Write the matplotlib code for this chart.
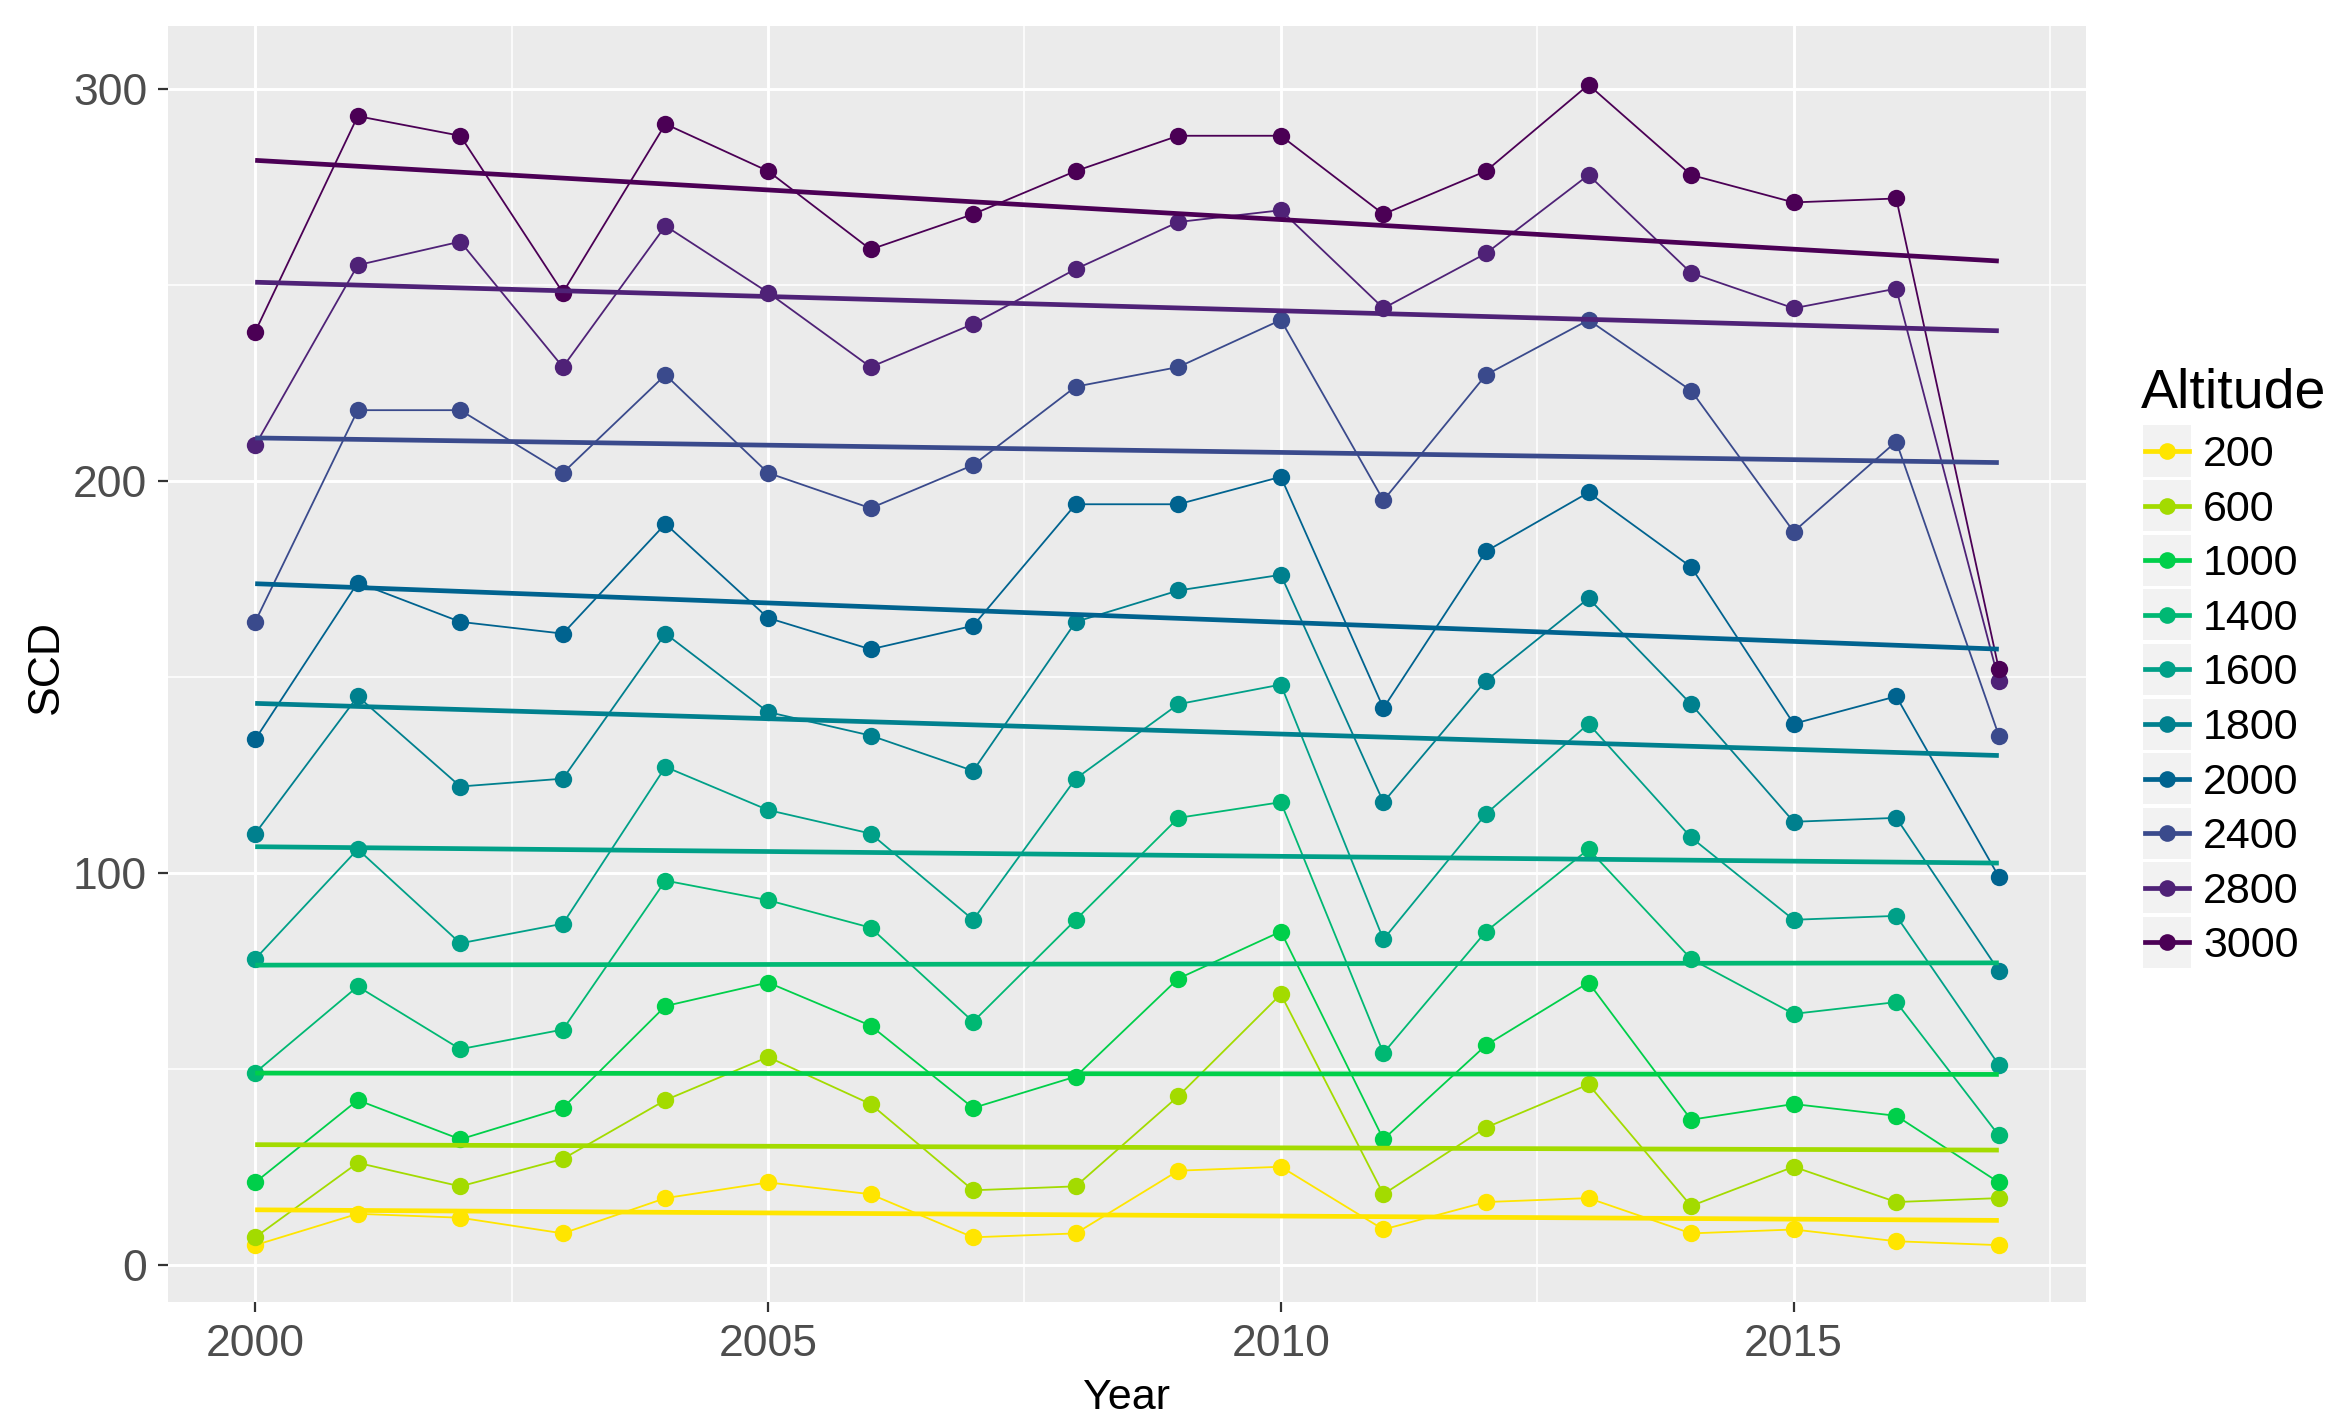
import numpy as np
import matplotlib
matplotlib.use("Agg")
import matplotlib.pyplot as plt
from matplotlib.lines import Line2D
from matplotlib.patches import Rectangle
from matplotlib.ticker import MultipleLocator

plt.rcParams['font.family'] = ['Liberation Sans', 'DejaVu Sans']

years = list(range(2000, 2018))
altitudes = ["200", "600", "1000", "1400", "1600", "1800", "2000", "2400", "2800", "3000"]
colors = ["#FFE500", "#A3DB00", "#00CF4A", "#00B873", "#00A088",
          "#00808E", "#00638F", "#3A4A8C", "#4F2277", "#4B0055"]

scd_200 = [5, 13, 12, 8, 17, 21, 18, 7, 8, 24, 25, 9, 16, 17, 8, 9, 6, 5]
scd_600 = [7, 26, 20, 27, 42, 53, 41, 19, 20, 43, 69, 18, 35, 46, 15, 25, 16, 17]
scd_1000 = [21, 42, 32, 40, 66, 72, 61, 40, 48, 73, 85, 32, 56, 72, 37, 41, 38, 21]
scd_1400 = [49, 71, 55, 60, 98, 93, 86, 62, 88, 114, 118, 54, 85, 106, 78, 64, 67, 33]
scd_1600 = [78, 106, 82, 87, 127, 116, 110, 88, 124, 143, 148, 83, 115, 138, 109, 88, 89, 51]
scd_1800 = [110, 145, 122, 124, 161, 141, 135, 126, 164, 172, 176, 118, 149, 170, 143, 113, 114, 75]
scd_2000 = [134, 174, 164, 161, 189, 165, 157, 163, 194, 194, 201, 142, 182, 197, 178, 138, 145, 99]
scd_2400 = [164, 218, 218, 202, 227, 202, 193, 204, 224, 229, 241, 195, 227, 241, 223, 187, 210, 135]
scd_2800 = [209, 255, 261, 229, 265, 248, 229, 240, 254, 266, 269, 244, 258, 278, 253, 244, 249, 149]
scd_3000 = [238, 293, 288, 248, 291, 279, 259, 268, 279, 288, 288, 268, 279, 301, 278, 271, 272, 152]

series = [scd_200, scd_600, scd_1000, scd_1400, scd_1600,
          scd_1800, scd_2000, scd_2400, scd_2800, scd_3000]

W, H = 2350, 1426
fig = plt.figure(figsize=(W / 100, H / 100), dpi=100)

def fx(px):
    return px / W

def fy(py):
    return 1 - py / H

L, R, T, B = 168, 2086, 26, 1302
ax = fig.add_axes([fx(L), fy(B), (R - L) / W, (B - T) / H])
ax.set_facecolor("#EBEBEB")
for s in ax.spines.values():
    s.set_visible(False)

x = np.array(years, dtype=float)
for vals, c in zip(series, colors):
    ax.plot(x, vals, color=c, lw=1.3, zorder=3)
for vals, c in zip(series, colors):
    ax.plot(x, vals, 'o', color=c, ms=12.5, mec='none', zorder=4)
for vals, c in zip(series, colors):
    k, b0 = np.polyfit(x, np.array(vals, dtype=float), 1)
    ax.plot(x, k * x + b0, color=c, lw=3.4, zorder=5, solid_capstyle='butt')

ax.set_xlim(1999.15, 2017.85)
ax.set_ylim(-9.5, 316)
ax.xaxis.set_major_locator(MultipleLocator(5))
ax.xaxis.set_minor_locator(MultipleLocator(2.5))
ax.yaxis.set_major_locator(MultipleLocator(100))
ax.yaxis.set_minor_locator(MultipleLocator(50))
ax.grid(which='major', color='white', lw=2.1, zorder=1)
ax.grid(which='minor', color='white', lw=1.1, zorder=1)
ax.set_axisbelow(True)
ax.tick_params(which='major', length=7, width=1.6, color='#333333',
               labelsize=32, labelcolor='#4D4D4D')
ax.tick_params(axis='x', which='major', pad=9)
ax.tick_params(axis='y', which='major', pad=8)
ax.tick_params(which='minor', length=0)

fig.text(fx(1127), fy(1409), "Year", fontsize=31, color='black',
         ha='center', va='baseline')
fig.text(fx(46), fy(667), "SCD", fontsize=32, color='black',
         ha='center', va='center', rotation=90)

# legend
fig.text(fx(2141), fy(408), "Altitude", fontsize=40, color='black',
         ha='left', va='baseline')
for i, (lab, c) in enumerate(zip(altitudes, colors)):
    cy = 451 + 54.6 * i
    fig.patches.append(Rectangle((fx(2143), fy(cy + 25.5)), 48 / W, 51 / H,
                                 transform=fig.transFigure, facecolor='#F2F2F2',
                                 edgecolor='none'))
    fig.lines.append(Line2D([fx(2145), fx(2189)], [fy(cy), fy(cy)],
                            transform=fig.transFigure, color=c, lw=3.4))
    fig.lines.append(Line2D([fx(2167)], [fy(cy)], transform=fig.transFigure,
                            color=c, marker='o', ms=12, mec='none'))
    fig.text(fx(2203), fy(cy + 15), lab, fontsize=31, color='black',
             ha='left', va='baseline')

fig.savefig("out.png", dpi=100, facecolor='white')
